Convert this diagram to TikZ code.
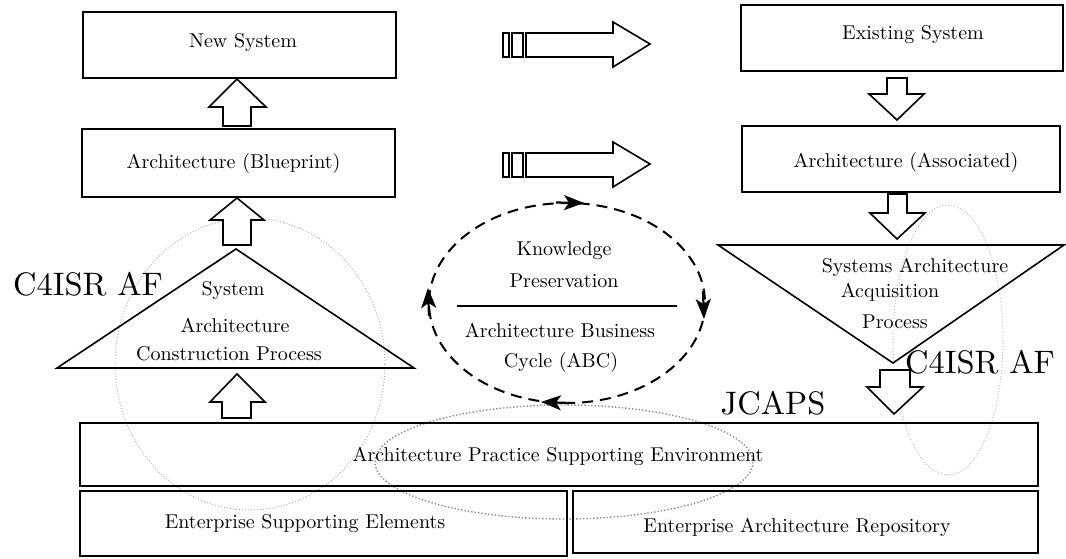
\documentclass[tikz,border=0pt]{standalone}
\usepackage{fontspec}
\setmainfont{lmroman10-regular.otf}
\usetikzlibrary{arrows.meta}
\begin{document}
\begin{tikzpicture}[x=1pt,y=-1pt,
 box/.style={draw,line width=1.5pt,inner sep=0pt},
 lbl/.style={font=\fontsize{20}{24}\selectfont,inner sep=0pt,anchor=base},
 big/.style={font=\fontsize{32.5}{38}\selectfont,inner sep=0pt,anchor=base},
 blk/.style={draw,line width=1.6pt,fill=white,line join=miter},
 faint/.style={draw=black!30,dotted,line width=1pt},
 cyc/.style={draw,line width=2pt,dash pattern=on 11pt off 7pt},
 tip/.style={line width=2.2pt,-{Stealth[length=20pt,width=15pt,inset=5pt]}}
]
\useasboundingbox (0,0) rectangle (1066,558);
% faint annotation circles
\draw[faint] (250,364) ellipse [x radius=135, y radius=146];
\draw[faint,draw=black!45,line width=1.4pt] (564,462) ellipse [x radius=189, y radius=57];
\draw[faint,draw=black!25] (948,340) ellipse [x radius=55, y radius=135];
% boxes
\node[box,minimum width=313pt,minimum height=66pt] (ns) at (239.5,45) {};
\node[box,minimum width=313pt,minimum height=68pt] (ab) at (238.5,163) {};
\node[box,minimum width=322pt,minimum height=66pt] (es) at (902,38) {};
\node[box,minimum width=318pt,minimum height=66pt] (aa) at (901,159) {};
\node[box,minimum width=958pt,minimum height=63pt] (apse) at (559,454.5) {};
\node[box,minimum width=487pt,minimum height=65pt] (ese) at (323.5,523.5) {};
\node[box,minimum width=465pt,minimum height=62pt] (ear) at (805.5,522) {};
% texts
\node[lbl] (tns) at (243,47) {New System};
\node[lbl] (tab) at (233.5,168) {Architecture (Blueprint)};
\node[lbl] (tes) at (913,39) {Existing System};
\node[lbl] (taa) at (906,167) {Architecture (Associated)};
\node[lbl] (tapse) at (558,461) {Architecture Practice Supporting Environment};
\node[lbl] (tese) at (305,528) {Enterprise Supporting Elements};
\node[lbl] (tear) at (797,532) {Enterprise Architecture Repository};
% triangles
\draw[line width=1.6pt,line join=miter] (236,249) -- (414,368) -- (57,368) -- cycle;
\draw[line width=1.6pt,line join=miter] (718,245) -- (1064,245) -- (893,363) -- cycle;
\node[lbl] (ts1) at (233,295) {System};
\node[lbl] (ts2) at (235,332) {Architecture};
\node[lbl] (ts3) at (229,360) {Construction Process};
\node[lbl] (tr1) at (915,272) {Systems Architecture};
\node[lbl] (tr2) at (890,297) {Acquisition};
\node[lbl] (tr3) at (895,328) {Process};
\node[big] (c4l) at (88,295) {C4ISR AF};
\node[big] (c4r) at (980,373) {C4ISR AF};
\node[big] (jc) at (773,414) {JCAPS};
% block arrows up
\draw[blk] (223,126) -- (223,107) -- (209,107) -- (237,79) -- (266,107) -- (251,107) -- (251,126) -- cycle;
\draw[blk] (223,245) -- (223,220) -- (210,220) -- (237,198) -- (264,220) -- (251,220) -- (251,245) -- cycle;
\draw[blk] (222,418) -- (222,402) -- (210,402) -- (237,374) -- (265,402) -- (251,402) -- (251,418) -- cycle;
% block arrows down
\draw[blk] (887,78) -- (887,94) -- (869,94) -- (897,120) -- (924,94) -- (907,94) -- (907,78) -- cycle;
\draw[blk] (888,194) -- (888,213) -- (870,213) -- (897,239) -- (925,213) -- (907,213) -- (907,194) -- cycle;
\draw[blk] (880,370) -- (880,387) -- (867,387) -- (894,414) -- (923,387) -- (910,387) -- (910,370) -- cycle;
% block arrows right
\foreach \dy in {0,120}{
 \draw[blk] (503,33+\dy) rectangle (509,57+\dy);
 \draw[blk] (512,33+\dy) rectangle (523,57+\dy);
 \draw[blk] (526,33+\dy) -- (613,33+\dy) -- (613,22+\dy) -- (650,44+\dy) -- (613,67+\dy) -- (613,57+\dy) -- (526,57+\dy) -- cycle;
}
% cycle
\draw[cyc] (567,303) ellipse [x radius=138, y radius=100];
\draw[tip] (556,202.5) -- (584,203);
\draw[tip] (703,291) -- (704,319);
\draw[tip] (569,403) -- (541,402);
\draw[tip] (429,316) -- (428,288);
\draw[line width=1.5pt] (457,306) -- (677,306);
\node[lbl] (k1) at (564,255) {Knowledge};
\node[lbl] (k2) at (564,287) {Preservation};
\node[lbl] (k3) at (560,337) {Architecture Business};
\node[lbl] (k4) at (561,367) {Cycle (ABC)};
\end{tikzpicture}
\end{document}
